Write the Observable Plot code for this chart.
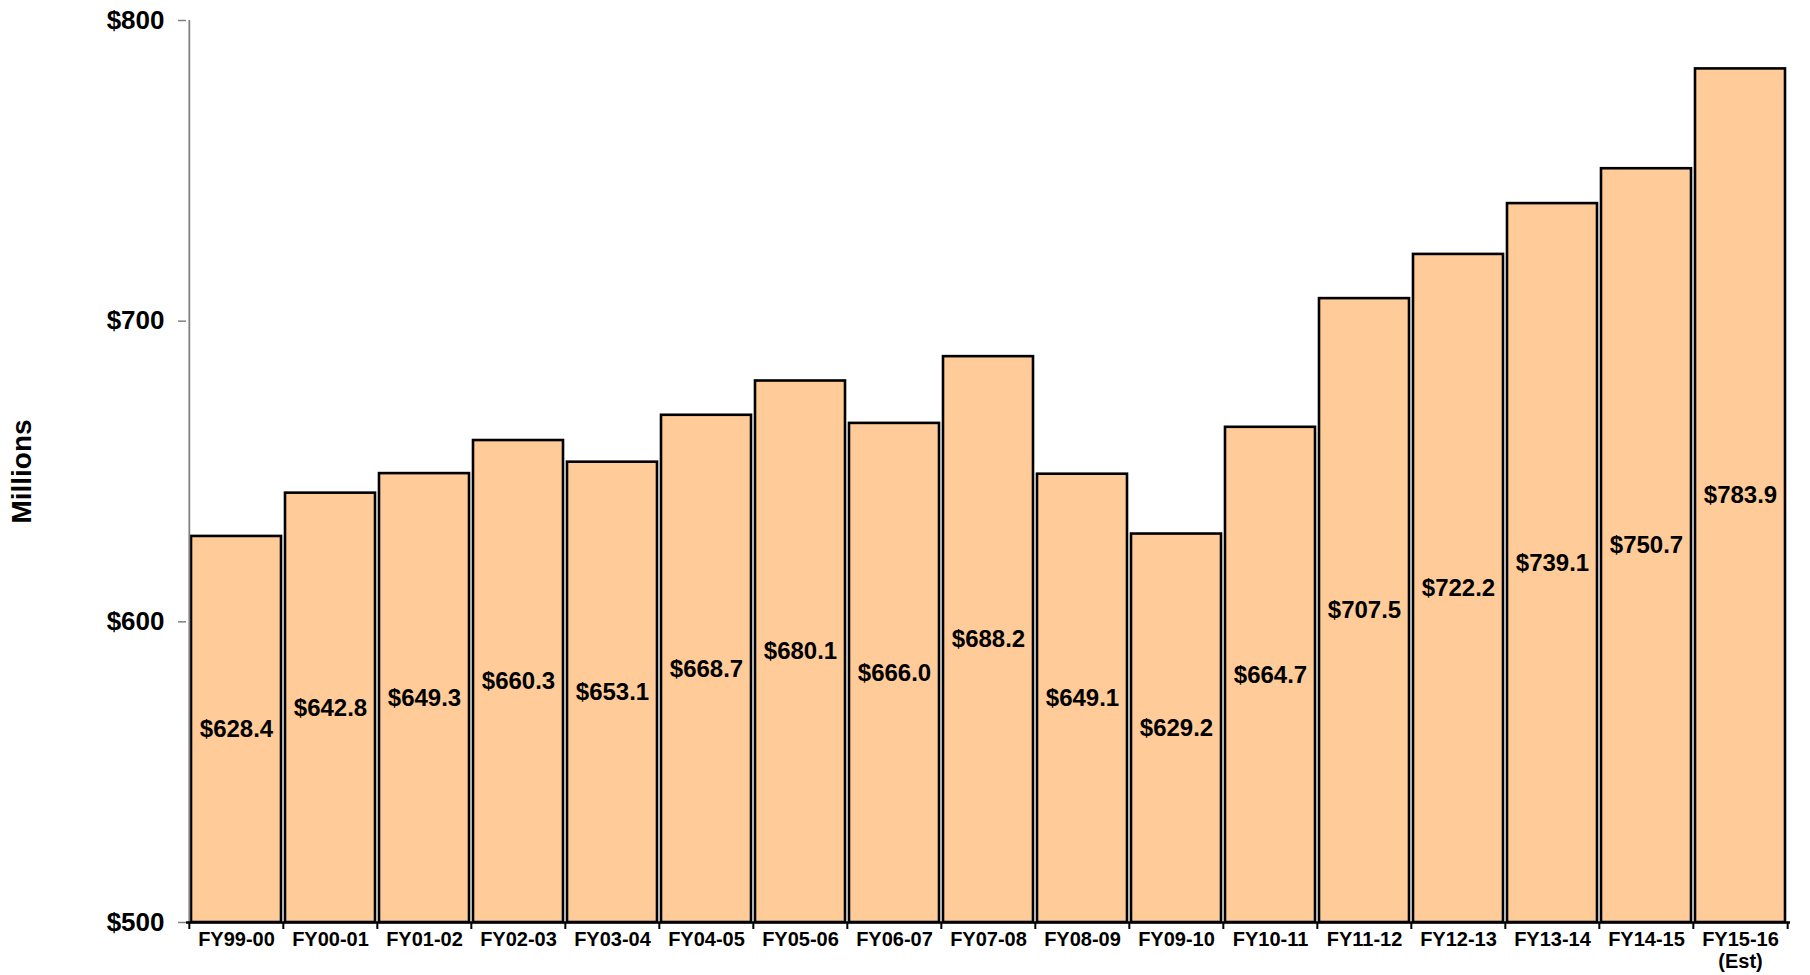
<!DOCTYPE html>
<html>
<head>
<meta charset="utf-8">
<script src="https://cdn.jsdelivr.net/npm/d3@7"></script>
<script src="https://cdn.jsdelivr.net/npm/@observablehq/plot@0.6"></script>
<style>
  html, body { margin: 0; padding: 0; background: #fff; }
  svg { display: block; }
</style>
</head>
<body>
<div id="chart"></div>
<script>
const years = ["FY99-00","FY00-01","FY01-02","FY02-03","FY03-04","FY04-05","FY05-06","FY06-07","FY07-08","FY08-09","FY09-10","FY10-11","FY11-12","FY12-13","FY13-14","FY14-15","FY15-16\n(Est)"];
const values = [628.4,642.8,649.3,660.3,653.1,668.7,680.1,666.0,688.2,649.1,629.2,664.7,707.5,722.2,739.1,750.7,783.9];
const yTicks = [500,600,700,800];
const yBase = 500;
const yTitle = "Millions";

const data = years.map((y, i) => ({year: y, value: values[i]}));

const W = 1810, H = 975;
const mL = 186, mR = 20, mT = 20, mB = 53;
const step = (W - mL - mR) / years.length;

const chart = Plot.plot({
  width: W,
  height: H,
  marginLeft: mL,
  marginRight: mR,
  marginTop: mT,
  marginBottom: mB,
  style: {fontFamily: "'Liberation Sans', Arial, sans-serif", fontWeight: "bold", color: "#000", background: "#fff"},
  x: {domain: years, paddingInner: 0.045, paddingOuter: 0.0225},
  y: {domain: [500, 800], ticks: yTicks},
  marks: [
    Plot.barY(data, {x: "year", y1: yBase, y2: "value", fill: "#FFCC99", stroke: "#000", strokeWidth: 2.6}),
    Plot.text(data, {x: "year", y: d => (yBase + d.value) / 2, text: d => "$" + d.value.toFixed(1), fontSize: 24, fontWeight: "bold", fill: "#000"}),
    // y axis line
    Plot.ruleX([years[0]], {x: d => d, y1: 500, y2: 800, dx: -step / 2, stroke: "#808080", strokeWidth: 1.8}),
    // x axis line
    Plot.ruleY([yBase], {stroke: "#000", strokeWidth: 2.6}),
    // x boundary ticks
    Plot.ruleX(years, {x: d => d, y1: 500, y2: 500, dx: -step / 2, insetBottom: -7, stroke: "#000", strokeWidth: 2}),
    Plot.ruleX([years[years.length - 1]], {x: d => d, y1: 500, y2: 500, dx: step / 2, insetBottom: -7, stroke: "#000", strokeWidth: 2}),
    Plot.axisY({ticks: yTicks, tickFormat: d => "$" + d, tickSize: 8, tickPadding: 14, fontSize: 26, fontWeight: "bold", stroke: "#808080", strokeWidth: 1.5, label: yTitle, labelAnchor: "center", labelArrow: "none", labelOffset: 175}),
    Plot.axisX({tickSize: 0, tickPadding: 8, fontSize: 20, fontWeight: "bold", lineHeight: 1.1, label: null})
  ]
});
document.getElementById("chart").appendChild(chart);
// adjust the y-axis label font
chart.querySelectorAll("g[aria-label='y-axis label'] text").forEach(t => { t.style.fontSize = "28px"; t.style.fontWeight = "bold"; });
</script>
</body>
</html>
